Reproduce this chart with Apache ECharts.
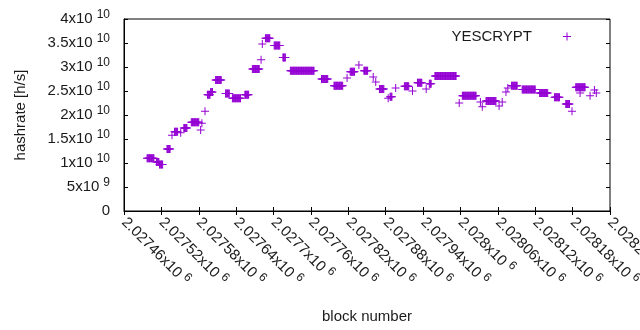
<!DOCTYPE html>
<html>
<head>
<meta charset="utf-8">
<script src="https://cdn.jsdelivr.net/npm/echarts@6/dist/echarts.min.js"></script>
<style>
  html, body { margin: 0; padding: 0; background: #fff; }
  #chart { width: 640px; height: 330px; }
</style>
</head>
<body>
<div id="chart"></div>
<script>
// hashrate runs: every block from runStart to runEnd has the value runHash
var runStart = [2027497, 2027512, 2027517, 2027529, 2027537, 2027541, 2027551, 2027556, 2027568, 2027583,
    2027585, 2027590, 2027594, 2027599, 2027607, 2027623, 2027634, 2027654, 2027666, 2027680,
    2027682, 2027687, 2027701, 2027715, 2027727, 2027777, 2027797, 2027818, 2027823, 2027837,
    2027845, 2027860, 2027864, 2027870, 2027884, 2027887, 2027896, 2027910, 2027923, 2027931,
    2027945, 2027950, 2027959, 2027998, 2028003, 2028032, 2028035, 2028041, 2028062, 2028067,
    2028073, 2028076, 2028082, 2028099, 2028127, 2028151, 2028169, 2028179, 2028185, 2028192,
    2028208, 2028215, 2028218];
var runEnd = [2027508, 2027516, 2027522, 2027534, 2027537, 2027546, 2027551, 2027561, 2027580, 2027583,
    2027585, 2027590, 2027598, 2027602, 2027616, 2027629, 2027647, 2027660, 2027677, 2027680,
    2027682, 2027694, 2027710, 2027719, 2027765, 2027787, 2027811, 2027818, 2027830, 2027837,
    2027851, 2027860, 2027864, 2027877, 2027884, 2027890, 2027896, 2027917, 2027923, 2027938,
    2027945, 2027953, 2027993, 2027998, 2028025, 2028032, 2028035, 2028057, 2028062, 2028067,
    2028073, 2028076, 2028091, 2028120, 2028140, 2028159, 2028175, 2028179, 2028200, 2028192,
    2028208, 2028215, 2028218];
var runHash = [1.10e10, 1.02e10, 0.97e10, 1.29e10, 1.58e10, 1.65e10, 1.63e10, 1.73e10, 1.85e10, 1.69e10,
    1.83e10, 2.08e10, 2.42e10, 2.48e10, 2.73e10, 2.45e10, 2.35e10, 2.42e10, 2.96e10, 3.15e10,
    3.48e10, 3.60e10, 3.45e10, 3.20e10, 2.92e10, 2.75e10, 2.61e10, 2.77e10, 2.90e10, 3.04e10,
    2.92e10, 2.79e10, 2.69e10, 2.54e10, 2.35e10, 2.38e10, 2.56e10, 2.60e10, 2.50e10, 2.67e10,
    2.54e10, 2.65e10, 2.81e10, 2.25e10, 2.40e10, 2.27e10, 2.17e10, 2.29e10, 2.19e10, 2.27e10,
    2.48e10, 2.56e10, 2.61e10, 2.53e10, 2.46e10, 2.37e10, 2.23e10, 2.08e10, 2.58e10, 2.46e10,
    2.40e10, 2.52e10, 2.46e10];

var xMin = 2027460, xMax = 2028240, xStep = 60;
var yMin = 0, yMax = 4e10, yStep = 5e9;

var points = [];
for (var i = 0; i < runStart.length; i++) {
    for (var b = runStart[i]; b <= runEnd[i]; b++) {
        points.push([b, runHash[i]]);
    }
}

var plus = 'path://M0,3.5h8v1h-8z M3.5,0h1v8h-1z';
var font = 'Liberation Sans, Arial, sans-serif';
var ink = '#1a1a1a';

// "a x10^n" like gnuplot's %g with enhanced text
function sci(v, decimals) {
    if (v === 0) return '{b|0}';
    var e = Math.floor(Math.log10(Math.abs(v)) + 1e-9);
    var m = parseFloat((v / Math.pow(10, e)).toFixed(decimals));
    return '{b|' + m + 'x10}{s|' + e + '}';
}
var rich = {
    b: { fontFamily: font, fontSize: 15, color: ink },
    s: { fontFamily: font, fontSize: 12, color: ink, padding: [0, 0, 9, 4] }
};

var chart = echarts.init(document.getElementById('chart'));

var option = {
    animation: false,
    grid: {
        left: 124, right: 30, top: 19, bottom: 119,
        containLabel: false, outerBoundsMode: 'none',
        show: true, borderColor: '#000', borderWidth: 1
    },
    legend: {
        right: 64, top: 24, align: 'right', itemWidth: 8, itemHeight: 8,
        textStyle: { fontFamily: font, fontSize: 15, color: ink, padding: [0, 26, 0, 0] },
        data: [{ name: 'YESCRYPT', icon: plus }]
    },
    xAxis: [{
        type: 'value', min: xMin, max: xMax, interval: xStep,
        name: 'block number', nameLocation: 'middle', nameGap: 98,
        nameTextStyle: { fontFamily: font, fontSize: 15, color: ink },
        axisLine: { lineStyle: { color: '#000' } },
        axisTick: { inside: true, length: 4, lineStyle: { color: '#000' } },
        splitLine: { show: false },
        axisLabel: {
            rotate: -45, margin: 9, showMinLabel: true, showMaxLabel: true,
            formatter: function (v) { return sci(v, 5); }, rich: rich
        }
    }, {
        type: 'value', position: 'top', min: xMin, max: xMax, interval: xStep,
        axisLine: { show: false },
        axisTick: { inside: true, length: 4, lineStyle: { color: '#000' } },
        axisLabel: { show: false }, splitLine: { show: false }
    }],
    yAxis: [{
        type: 'value', min: yMin, max: yMax, interval: yStep,
        name: 'hashrate [h/s]', nameLocation: 'middle', nameGap: 96,
        nameTextStyle: { fontFamily: font, fontSize: 15, color: ink },
        axisLine: { show: true, lineStyle: { color: '#000' } },
        axisTick: { show: true, inside: true, length: 4, lineStyle: { color: '#000' } },
        splitLine: { show: false },
        axisLabel: {
            margin: 14,
            formatter: function (v) { return sci(v, 2); }, rich: rich
        }
    }, {
        type: 'value', position: 'right', min: yMin, max: yMax, interval: yStep,
        axisLine: { show: false },
        axisTick: { show: true, inside: true, length: 4, lineStyle: { color: '#000' } },
        axisLabel: { show: false }, splitLine: { show: false }
    }],
    series: [{
        name: 'YESCRYPT',
        type: 'scatter',
        symbol: plus,
        symbolSize: 8,
        itemStyle: { color: '#9400d3', opacity: 1 },
        data: points
    }]
};

chart.setOption(option);
</script>
</body>
</html>
